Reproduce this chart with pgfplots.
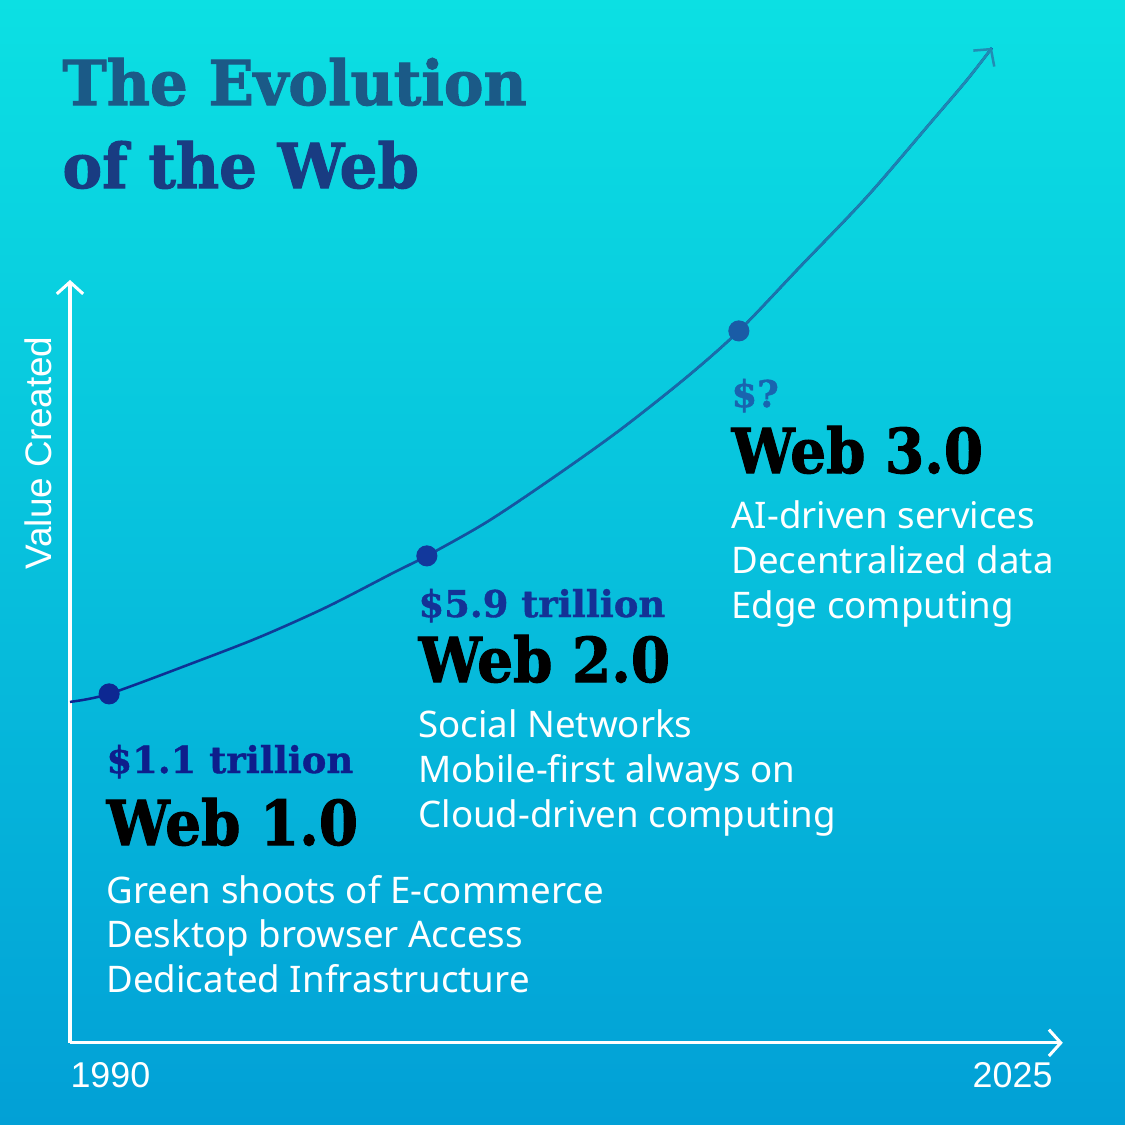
\documentclass[border=0pt]{standalone}
\usepackage{pgfplots}
\pgfplotsset{compat=1.18}
\usetikzlibrary{arrows.meta,fadings}
\usepackage{fontspec}
\setmainfont{Noto Sans}
\newfontfamily\titlefont[FakeStretch=0.96, BoldFeatures={FakeBold=1.6}]{DejaVu Serif}
\newfontfamily\headfont[FakeStretch=0.91, BoldFeatures={FakeBold=1.6}]{DejaVu Serif}
\newfontfamily\amtfont[BoldFeatures={FakeBold=1.0}]{DejaVu Serif}
\newfontfamily\labfont{Liberation Sans}

\definecolor{bgtop}{RGB}{12,224,227}
\definecolor{bgbot}{RGB}{2,160,214}
\definecolor{title1}{RGB}{27,90,135}
\definecolor{title2}{RGB}{25,60,130}
\definecolor{amt1}{RGB}{14,30,140}
\definecolor{amt2}{RGB}{20,50,150}
\definecolor{amt3}{RGB}{25,100,175}
\definecolor{dot1}{RGB}{13,40,146}
\definecolor{dot2}{RGB}{18,56,156}
\definecolor{dot3}{RGB}{26,92,166}
\definecolor{linestart}{RGB}{12,36,144}
\definecolor{lineend}{RGB}{34,140,180}

% value curve (year, value)
\pgfplotstableread{
x y
1990.00 4.469
1991.38 4.574
1994.34 4.980
1996.70 5.321
1999.06 5.714
2001.39 6.160
2002.58 6.383
2004.70 6.828
2007.02 7.405
2009.39 8.034
2011.75 8.729
2013.58 9.332
2015.73 10.170
2018.09 11.088
2020.42 12.097
2021.62 12.621
2022.50 13.041
}\curve

\tikzset{
  body/.style={anchor=base west, inner sep=0, text=white, font=\fontsize{13.9}{16}\selectfont},
  amt/.style={anchor=base west, inner sep=0, font=\amtfont\bfseries\fontsize{14}{16}\selectfont},
  web/.style={anchor=base west, inner sep=0, text=black, font=\headfont\bfseries\fontsize{23.5}{28}\selectfont},
}

\begin{document}
\begin{tikzpicture}[x=0.0133333cm, y=-0.0133333cm]
\shade[top color=bgtop, bottom color=bgbot] (0,0) rectangle (1125,1125);
\useasboundingbox (0,0) rectangle (1125,1125);

\begin{axis}[
  at={(0.93333cm,-13.90667cm)}, anchor=south west,
  scale only axis, width=13.24cm, height=10.1733cm,
  xmin=1990, xmax=2025, ymin=0, ymax=10,
  axis lines=left,
  axis line style={white, line width=1.15pt, -{Straight Barb[length=4.5pt,width=10pt]}},
  xtick=\empty, ytick=\empty,
  clip=false,
]
\addplot[smooth, linestart, line width=0.95pt] table {\curve};
\addplot[smooth, lineend, line width=0.95pt, path fading=west,
  -{Straight Barb[length=4.5pt,width=10pt]}] table {\curve};
\addplot[only marks, mark=*, mark size=3.8pt, dot1] coordinates {(1991.38,4.574)};
\addplot[only marks, mark=*, mark size=3.8pt, dot2] coordinates {(2002.58,6.383)};
\addplot[only marks, mark=*, mark size=3.8pt, dot3] coordinates {(2013.58,9.332)};
\end{axis}

\node[anchor=base west, inner sep=0, text=title1, font=\titlefont\bfseries\fontsize{23.5}{28}\selectfont] at (62,105) {The Evolution};
\node[anchor=base west, inner sep=0, text=title2, font=\titlefont\bfseries\fontsize{23.5}{28}\selectfont] at (62,188) {of the Web};

\node[rotate=90, anchor=base, inner sep=0, text=white, font=\labfont\fontsize{14}{16}\selectfont] at (52,453) {Value Created};
\node[anchor=base west, inner sep=0, text=white, font=\labfont\fontsize{13.6}{16}\selectfont] at (70,1087) {1990};
\node[anchor=base east, inner sep=0, text=white, font=\labfont\fontsize{13.6}{16}\selectfont] at (1053,1087) {2025};

\node[amt, text=amt1] at (106,773) {\$1.1 trillion};
\node[web] at (106,845) {Web 1.0};
\node[body] at (106,903) {Green shoots of E-commerce};
\node[body] at (106,947) {Desktop browser Access};
\node[body] at (106,992) {Dedicated Infrastructure};

\node[amt, text=amt2] at (418,617) {\$5.9 trillion};
\node[web] at (418,682) {Web 2.0};
\node[body] at (418,737) {Social Networks};
\node[body] at (418,782) {Mobile-first always on};
\node[body] at (418,827) {Cloud-driven computing};

\node[amt, text=amt3] at (731,407) {\$?};
\node[web] at (731,473) {Web 3.0};
\node[body] at (731,528) {AI-driven services};
\node[body] at (731,573) {Decentralized data};
\node[body] at (731,618) {Edge computing};
\end{tikzpicture}
\end{document}
